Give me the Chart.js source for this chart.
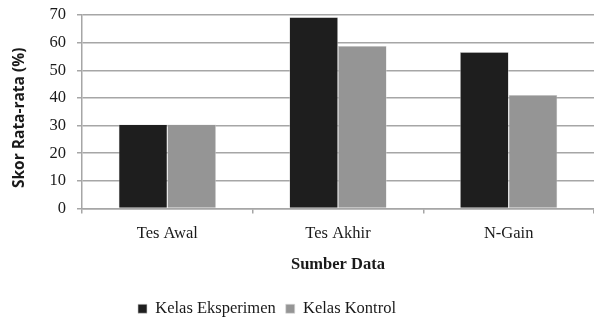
<!DOCTYPE html>
<html>
<head>
<meta charset="utf-8">
<script src="https://cdn.jsdelivr.net/npm/chart.js@4"></script>
<style>
  html, body { margin: 0; padding: 0; background: #fff; }
  #wrap { width: 594px; height: 318px; position: relative; }
</style>
</head>
<body>
<div id="wrap"><canvas id="chart"></canvas></div>
<script>
// --- Data ---
const categories = ['Tes Awal', 'Tes Akhir', 'N-Gain'];
const eksperimen = [30.4, 69.2, 56.6];
const kontrol = [30.4, 58.8, 41.1];
const seriesNames = ['Kelas Eksperimen', 'Kelas Kontrol'];
const yTicks = [0, 10, 20, 30, 40, 50, 60, 70];

const serif = '"Liberation Serif", "Times New Roman", serif';
const gridColor = '#a6a6a6';

// legend in the original sits a bit left of centre and close to the bottom edge
const legendShift = {
    id: 'legendShift',
    afterLayout(chart) {
        const lg = chart.legend;
        lg.left -= 30;
        lg.right -= 30;
        lg.top += 9;
        lg.bottom += 9;
    }
};

const ctx = document.getElementById('chart').getContext('2d');

new Chart(ctx, {
    type: 'bar',
    data: {
        labels: categories,
        datasets: [
            {
                label: seriesNames[0],
                data: eksperimen,
                backgroundColor: '#1e1e1e',
                borderColor: '#d0d0d0',
                borderWidth: 0.6
            },
            {
                label: seriesNames[1],
                data: kontrol,
                backgroundColor: '#959595',
                borderColor: '#d8d8d8',
                borderWidth: 0.6
            }
        ]
    },
    plugins: [legendShift],
    options: {
        responsive: true,
        maintainAspectRatio: false,
        animation: false,
        layout: { padding: { top: 15, right: 0, left: 0, bottom: 0 } },
        datasets: {
            bar: { categoryPercentage: 0.57, barPercentage: 1.0 }
        },
        scales: {
            x: {
                grid: {
                    offset: true,
                    drawOnChartArea: false,
                    tickLength: 5,
                    color: gridColor,
                    lineWidth: 1.5
                },
                border: { color: gridColor, width: 1.5 },
                ticks: {
                    color: '#1a1a1a',
                    font: { family: serif, size: 16.5 },
                    padding: 10
                },
                title: {
                    display: true,
                    text: 'Sumber Data',
                    color: '#1a1a1a',
                    font: { family: serif, size: 16.5, weight: 'bold' },
                    padding: { top: 6, bottom: 7 }
                },
                afterFit: (scale) => { scale.height = 73; }
            },
            y: {
                min: 0,
                max: 70,
                afterBuildTicks: (scale) => {
                    scale.ticks = yTicks.map(v => ({ value: v }));
                },
                grid: {
                    color: gridColor,
                    lineWidth: 1.5,
                    tickLength: 5
                },
                border: { color: gridColor, width: 1.5 },
                ticks: {
                    color: '#1a1a1a',
                    font: { family: serif, size: 16.5 },
                    padding: 11
                },
                title: {
                    display: true,
                    // trailing spaces nudge the rotated title down a little, as in the original
                    text: 'Skor Rata-rata (%)   ',
                    color: '#1a1a1a',
                    font: { family: '"Open Sans", "Liberation Sans", sans-serif', size: 15.5, weight: 'bold' },
                    padding: { top: 10, bottom: 0 }
                },
                afterFit: (scale) => {
                    scale.width = 82;
                    scale.paddingTop = 0;
                    scale.paddingBottom = 0;
                }
            }
        },
        plugins: {
            legend: {
                position: 'bottom',
                labels: {
                    color: '#1a1a1a',
                    font: { family: serif, size: 16.5 },
                    boxWidth: 9,
                    boxHeight: 9,
                    padding: 10
                }
            },
            tooltip: { enabled: false }
        }
    }
});
</script>
</body>
</html>
